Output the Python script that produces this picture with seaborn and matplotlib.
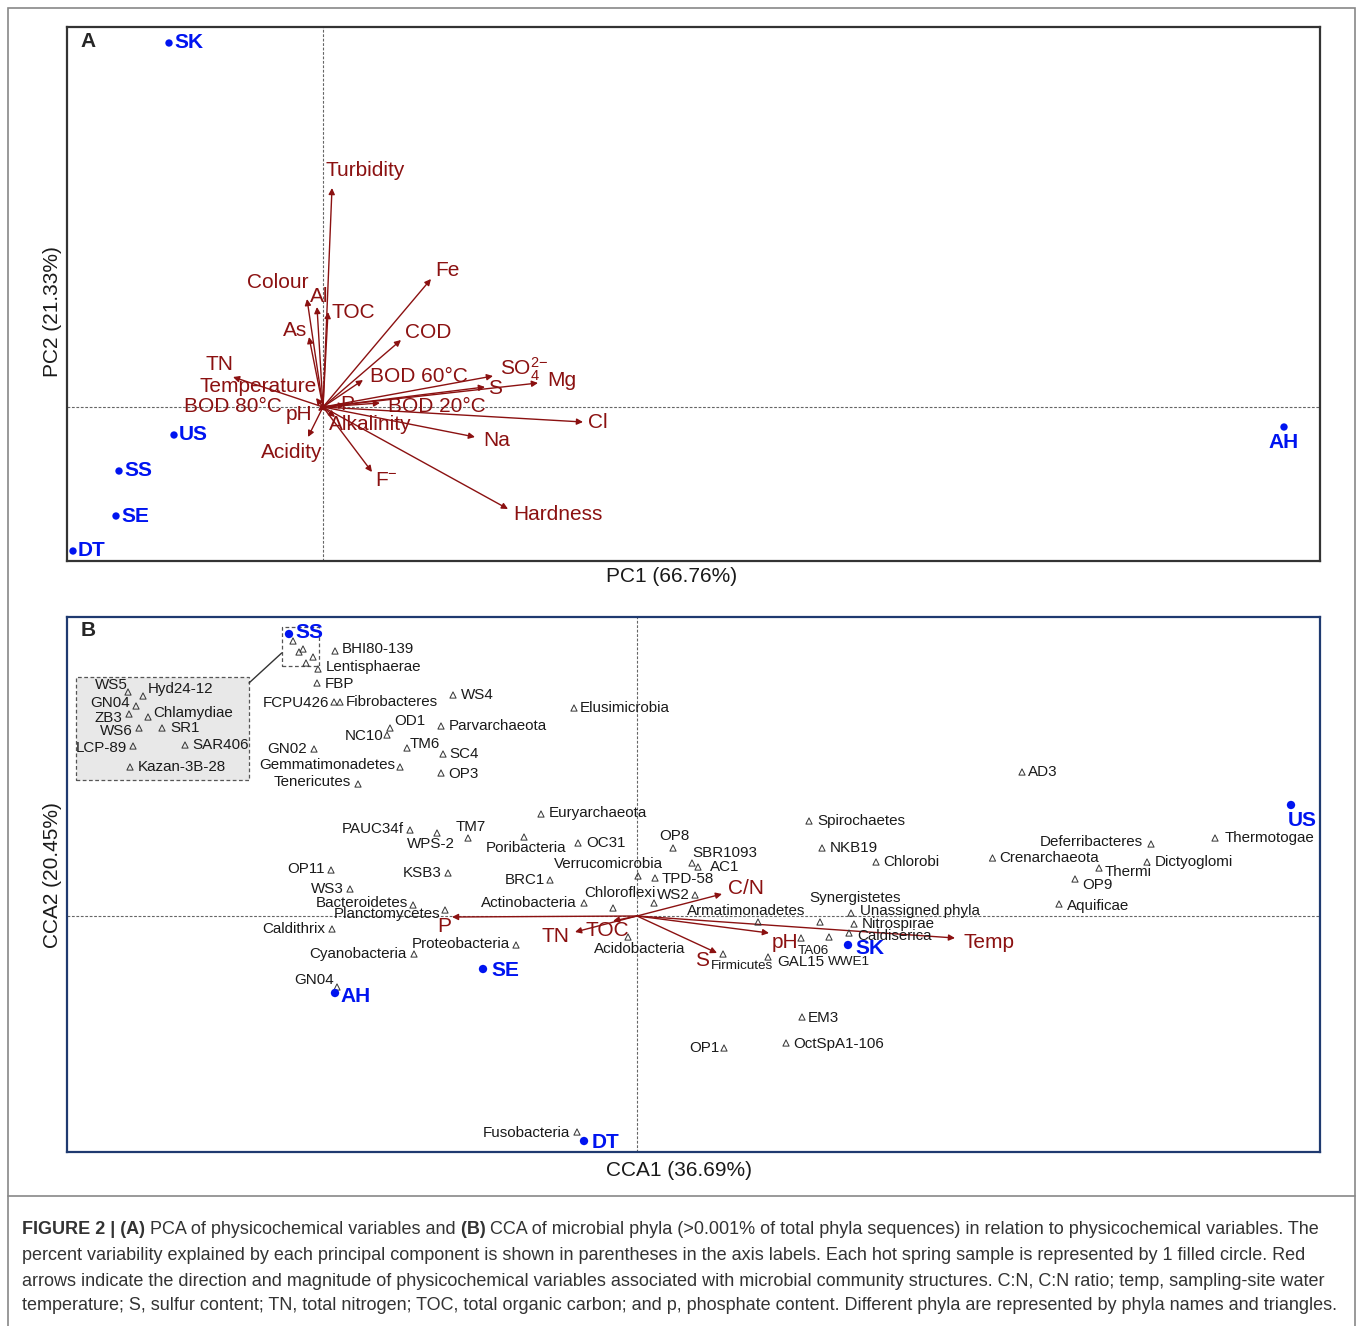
import numpy as np
import pandas as pd
import matplotlib
matplotlib.use("Agg")
import matplotlib.pyplot as plt
import seaborn as sns
from matplotlib.patches import Rectangle
from matplotlib.lines import Line2D

sns.set_theme(style="white")
plt.rcParams["font.family"] = ["Liberation Sans", "DejaVu Sans"]
plt.rcParams["mathtext.fontset"] = "custom"
plt.rcParams["mathtext.rm"] = "Liberation Sans"
plt.rcParams["mathtext.it"] = "Liberation Sans:italic"
plt.rcParams["mathtext.bf"] = "Liberation Sans:bold"

# ---------------- Panel A : PCA ----------------
pca_sites = ["SK", "US", "SS", "SE", "DT", "AH"]
pca_site_x = [-1.54, -1.49, -2.04, -2.07, -2.50, 9.61]
pca_site_y = [3.64, -0.28, -0.64, -1.09, -1.44, -0.20]

pca_vars = ["Turbidity", "Fe", "Colour", "Al", "TOC", "As", "COD", "TN", "Temperature",
            "BOD 80°C", "pH", "BOD 60°C", "SO4", "S", "Mg", "P", "BOD 20°C", "Cl", "Na",
            "Alkalinity", "F", "Hardness", "Acidity"]
pca_var_x = [0.09, 1.08, -0.16, -0.06, 0.05, -0.14, 0.78, -0.90, -0.07,
             -0.04, -0.05, 0.40, 1.70, 1.62, 2.15, 0.22, 0.57, 2.60, 1.52,
             0.12, 0.49, 1.85, -0.15]
pca_var_y = [2.19, 1.28, 1.08, 1.00, 0.95, 0.70, 0.67, 0.30, 0.09,
             0.01, -0.04, 0.27, 0.31, 0.20, 0.24, 0.02, 0.04, -0.15, -0.30,
             -0.10, -0.65, -1.02, -0.30]
pca_var_text = {"SO4": r"SO$_4^{2\mathrm{-}}$", "F": r"F$^{\mathrm{-}}$"}

# ---------------- Panel B : CCA ----------------
cca_sites = ["SS", "US", "SK", "SE", "AH", "DT"]
cca_site_x = [-3.48, 6.54, 2.11, -1.54, -3.02, -0.53]
cca_site_y = [2.82, 1.11, -0.29, -0.53, -0.77, -2.25]

cca_vars = ["C/N", "Temp", "pH", "S", "TOC", "TN", "P"]
cca_var_x = [0.85, 3.18, 1.32, 0.80, -0.24, -0.62, -1.85]
cca_var_y = [0.22, -0.22, -0.17, -0.37, -0.05, -0.16, -0.01]

phyla = ["BHI80-139", "Lentisphaerae", "FBP", "FCPU426", "Fibrobacteres", "WS4", "Elusimicrobia",
         "OD1", "NC10", "Parvarchaeota", "TM6", "SC4", "GN02", "Gemmatimonadetes", "OP3",
         "Tenericutes", "Euryarchaeota", "PAUC34f", "WPS-2", "TM7", "Poribacteria", "OC31",
         "OP11", "KSB3", "Verrucomicrobia", "BRC1", "WS3", "Bacteroidetes", "Actinobacteria",
         "Chloroflexi", "Planctomycetes", "Caldithrix", "Acidobacteria", "Proteobacteria",
         "Cyanobacteria", "GN04", "Spirochaetes", "OP8", "NKB19", "SBR1093", "AC1", "Chlorobi",
         "TPD-58", "WS2", "Armatimonadetes", "Synergistetes", "Unassigned phyla", "Nitrospirae",
         "Caldiserica", "TA06", "WWE1", "GAL15", "Firmicutes", "AD3", "Thermotogae",
         "Deferribacteres", "Crenarchaeota", "Dictyoglomi", "Thermi", "OP9", "Aquificae",
         "EM3", "OP1", "OctSpA1-106", "Fusobacteria"]
phyla_x = [-3.02, -3.19, -3.20, -3.03, -2.97, -1.84, -0.63,
           -2.47, -2.50, -1.96, -2.30, -1.94, -3.23, -2.37, -1.96,
           -2.79, -0.96, -2.27, -2.00, -1.69, -1.13, -0.59,
           -3.06, -1.89, 0.01, -0.87, -2.87, -2.24, -0.53,
           -0.24, -1.92, -3.05, -0.09, -1.21,
           -2.23, -3.00, 1.72, 0.36, 1.85, 0.55, 0.61, 2.39,
           0.18, 0.58, 1.21, 1.83, 2.14, 2.17,
           2.12, 1.64, 1.92, 1.31, 0.86, 3.85, 5.78,
           5.14, 3.555, 5.10, 4.62, 4.38, 4.22,
           1.65, 0.87, 1.49, -0.60]
phyla_y = [2.65, 2.47, 2.33, 2.14, 2.14, 2.21, 2.08,
           1.88, 1.81, 1.90, 1.68, 1.62, 1.67, 1.49, 1.43,
           1.32, 1.02, 0.86, 0.83, 0.78, 0.79, 0.73,
           0.46, 0.43, 0.40, 0.36, 0.27, 0.11, 0.13,
           0.08, 0.06, -0.13, -0.21, -0.29,
           -0.38, -0.71, 0.95, 0.68, 0.68, 0.53, 0.49, 0.54,
           0.38, 0.21, -0.06, -0.06, 0.03, -0.08,
           -0.17, -0.22, -0.21, -0.41, -0.38, 1.44, 0.78,
           0.72, 0.58, 0.54, 0.48, 0.37, 0.12,
           -1.01, -1.32, -1.27, -2.16]

# unlabelled triangles (crowded near SS, one near origin)
unl_x = [-3.44, -3.38, -3.34, -3.31, -3.24, 0.17]
unl_y = [2.75, 2.64, 2.67, 2.53, 2.59, 0.13]

# zoomed inset phyla
inset_phyla = ["WS5", "Hyd24-12", "GN04", "ZB3", "Chlamydiae", "WS6", "SR1", "LCP-89",
               "SAR406", "Kazan-3B-28"]
inset_x = [-5.09, -4.94, -5.01, -5.08, -4.89, -4.98, -4.75, -5.04, -4.52, -5.07]
inset_y = [2.24, 2.20, 2.10, 2.02, 1.99, 1.88, 1.88, 1.70, 1.71, 1.49]

# ---------------- layout (label placement, pixels) ----------------
pca_site_off = [(5, 0, "left"), (5, 0, "left"), (5, 0, "left"), (5, 0, "left"), (5, 0, "left"), (0, -16, "center")]
pca_lab_pos = [(0.02, 2.36, "left"), (1.12, 1.37, "left"), (-0.15, 1.24, "right"), (-0.13, 1.11, "left"),
               (0.09, 0.95, "left"), (-0.16, 0.76, "right"), (0.82, 0.74, "left"), (-1.17, 0.42, "left"),
               (-1.24, 0.21, "left"), (-1.39, 0.00, "left"), (-0.37, -0.07, "left"), (0.47, 0.30, "left"),
               (1.77, 0.38, "left"), (1.65, 0.19, "left"), (2.24, 0.26, "left"), (0.17, 0.02, "left"),
               (0.65, 0.01, "left"), (2.65, -0.16, "left"), (1.60, -0.34, "left"), (0.06, -0.17, "left"),
               (0.52, -0.73, "left"), (1.90, -1.08, "left"), (-0.62, -0.45, "left")]
cca_site_off = [(6, 1, "left"), (11, -15, "center"), (7, -4, "left"), (8, -1, "left"), (5, -3, "left"), (8, -1, "left")]
cca_lab_pos = [(0.91, 0.27, "left"), (3.27, -0.26, "left"), (1.35, -0.27, "left"), (0.58, -0.44, "left"),
               (-0.51, -0.15, "left"), (-0.95, -0.21, "left"), (-2.00, -0.11, "left")]
phyla_off = [(7, 2, "left"), (8, 2, "left"), (8, -1, "left"), (-5, -1, "right"), (6, 0, "left"), (8, 0, "left"),
             (6, 0, "left"), (4, 7, "left"), (-4, -1, "right"), (8, 0, "left"), (3, 4, "left"), (6, 0, "left"),
             (-7, 0, "right"), (-5, 2, "right"), (7, -1, "left"), (-7, 2, "right"), (8, 1, "left"),
             (-6, 1, "right"), (-6, -11, "center"), (3, 11, "center"), (2, -11, "center"), (8, 0, "left"),
             (-6, 1, "right"), (-7, 0, "right"), (-30, 12, "center"), (-5, 0, "right"), (-6, 0, "right"),
             (-5, 2, "right"), (-7, 0, "right"), (7, 15, "center"), (-5, -4, "right"), (-7, 0, "right"),
             (12, -12, "center"), (-6, 1, "right"), (-7, 0, "right"), (-3, 7, "right"), (8, 0, "left"),
             (1, 12, "center"), (8, 0, "left"), (0, 10, "left"), (12, 0, "left"), (7, 0, "left"),
             (7, -1, "left"), (-5, 0, "right"), (-12, 11, "center"), (35, 24, "center"), (9, 2, "left"),
             (8, 0, "left"), (8, -3, "left"), (12, -13, "center"), (20, -25, "center"), (9, -5, "left"),
             (19, -12, "center"), (6, 0, "left"), (10, 0, "left"), (-8, 2, "right"), (7, 0, "left"),
             (8, 0, "left"), (6, -4, "left"), (7, -6, "left"), (8, -2, "left"), (6, -1, "left"),
             (-4, 0, "right"), (7, -1, "left"), (-7, -1, "right")]
small_labels = {"Firmicutes", "TA06", "WWE1"}
inset_off = [(0, 7, "right"), (5, 7, "left"), (-6, 3, "right"), (-7, -4, "right"), (5, 4, "left"),
             (-6, -3, "right"), (8, 0, "left"), (-6, -2, "right"), (7, 0, "left"), (8, 0, "left")]

RED = "#8b1111"
BLUE = "#0014f0"
W, H = 1358, 1326

fig = plt.figure(figsize=(W / 100, H / 100), dpi=100)
fig.patch.set_facecolor("white")


def px_axes(l, t, r, b):
    return fig.add_axes([l / W, 1 - b / H, (r - l) / W, (b - t) / H])


axA = px_axes(67, 27, 1320, 561)
axB = px_axes(67, 617, 1320, 1152)

for ax, xl, yl, spine_col in [(axA, (-2.56, 9.97), (-1.54, 3.80), "#333333"),
                              (axB, (-5.70, 6.83), (-2.36, 2.99), "#1f3a70")]:
    ax.set_xlim(*xl)
    ax.set_ylim(*yl)
    ax.set_xticks([])
    ax.set_yticks([])
    for s in ax.spines.values():
        s.set_color(spine_col)
        s.set_linewidth(1.6)
    ax.axhline(0, color="#666666", lw=0.8, ls=(0, (2.5, 1.5)), zorder=1)
    ax.axvline(0, color="#666666", lw=0.8, ls=(0, (2.5, 1.5)), zorder=1)

# ---- Panel A ----
for name, x, y, (lx, ly, ha) in zip(pca_vars, pca_var_x, pca_var_y, pca_lab_pos):
    axA.annotate("", xy=(x, y), xytext=(0, 0),
                 arrowprops=dict(arrowstyle="-|>", color=RED, lw=1.0, mutation_scale=9,
                                 shrinkA=0, shrinkB=0), zorder=3)
    axA.text(lx, ly, pca_var_text.get(name, name), color=RED, fontsize=15, ha=ha, va="center", zorder=4)

dfA = pd.DataFrame({"x": pca_site_x, "y": pca_site_y, "site": pca_sites})
sns.scatterplot(data=dfA, x="x", y="y", ax=axA, color=BLUE, s=28, edgecolor="none", legend=False, zorder=5)
for (name, x, y), (dx, dy, ha) in zip(zip(pca_sites, pca_site_x, pca_site_y), pca_site_off):
    axA.annotate(name, (x, y), xytext=(dx, dy), textcoords="offset pixels", color=BLUE,
                 fontsize=15, fontweight="bold", ha=ha, va="center", zorder=6)
axA.set_xlabel("")
axA.set_ylabel("")
axA.text(0.0104, 0.972, "A", transform=axA.transAxes, fontsize=15, fontweight="bold", va="center", ha="left")

# ---- Panel B ----
# inset box and connector
axB.add_patch(Rectangle((-5.61, 1.36), 1.73, 1.03, facecolor="#e8e8e8", edgecolor="#555555",
                        lw=0.9, ls=(0, (3, 2)), zorder=1.5))
axB.add_patch(Rectangle((-3.553, 2.50), 0.373, 0.39, facecolor="none", edgecolor="#555555",
                        lw=0.9, ls=(0, (3, 2)), zorder=1.5))
axB.add_line(Line2D([-3.88, -3.553], [2.33, 2.63], color="#333333", lw=1.0, zorder=1.5))

for name, x, y, (lx, ly, ha) in zip(cca_vars, cca_var_x, cca_var_y, cca_lab_pos):
    axB.annotate("", xy=(x, y), xytext=(0, 0),
                 arrowprops=dict(arrowstyle="-|>", color=RED, lw=1.0, mutation_scale=9,
                                 shrinkA=0, shrinkB=0), zorder=3)
    axB.text(lx, ly, name, color=RED, fontsize=15, ha=ha, va="center", zorder=4)

tri = dict(marker="^", s=20, facecolor="none", edgecolor="#333333", linewidth=0.7, legend=False, zorder=4)
dfP = pd.DataFrame({"x": phyla_x, "y": phyla_y, "phylum": phyla})
sns.scatterplot(data=dfP, x="x", y="y", ax=axB, **tri)
sns.scatterplot(x=unl_x, y=unl_y, ax=axB, **tri)
sns.scatterplot(x=inset_x, y=inset_y, ax=axB, **tri)

for (name, x, y), (dx, dy, ha) in zip(zip(phyla, phyla_x, phyla_y), phyla_off):
    axB.annotate(name, (x, y), xytext=(dx, dy), textcoords="offset pixels", color="#1a1a1a",
                 fontsize=9.7 if name in small_labels else 10.9, ha=ha, va="center", zorder=5)
for (name, x, y), (dx, dy, ha) in zip(zip(inset_phyla, inset_x, inset_y), inset_off):
    axB.annotate(name, (x, y), xytext=(dx, dy), textcoords="offset pixels", color="#1a1a1a",
                 fontsize=10.9, ha=ha, va="center", zorder=5)

dfB = pd.DataFrame({"x": cca_site_x, "y": cca_site_y, "site": cca_sites})
sns.scatterplot(data=dfB, x="x", y="y", ax=axB, color=BLUE, s=36, edgecolor="none", legend=False, zorder=6)
for (name, x, y), (dx, dy, ha) in zip(zip(cca_sites, cca_site_x, cca_site_y), cca_site_off):
    axB.annotate(name, (x, y), xytext=(dx, dy), textcoords="offset pixels", color=BLUE,
                 fontsize=15, fontweight="bold", ha=ha, va="center", zorder=7)
axB.set_xlabel("")
axB.set_ylabel("")
axB.text(0.011, 0.974, "B", transform=axB.transAxes, fontsize=15, fontweight="bold", va="center", ha="left")

# axis titles
fig.text(672 / W, 1 - 577 / H, "PC1 (66.76%)", ha="center", va="center", fontsize=15, color="#1a1a1a")
fig.text(52 / W, 1 - 312 / H, "PC2 (21.33%)", ha="center", va="center", rotation=90, fontsize=15, color="#1a1a1a")
fig.text(679 / W, 1 - 1170 / H, "CCA1 (36.69%)", ha="center", va="center", fontsize=15, color="#1a1a1a")
fig.text(52 / W, 1 - 875 / H, "CCA2 (20.45%)", ha="center", va="center", rotation=90, fontsize=15, color="#1a1a1a")

# outer frame (figure box continuing around the caption)
fig.add_artist(Rectangle((8 / W, -0.01), (1355 - 8) / W, 1.01 - 8 / H, transform=fig.transFigure,
                         facecolor="none", edgecolor="#888888", lw=1.2))
fig.add_artist(Line2D([8 / W, 1355 / W], [1 - 1196 / H, 1 - 1196 / H], transform=fig.transFigure,
                      color="#888888", lw=1.2))

# caption
caption = [
    [("FIGURE 2 | (A) ", True), ("PCA of physicochemical variables and ", False), ("(B) ", True),
     ("CCA of microbial phyla (>0.001% of total phyla sequences) in relation to physicochemical variables. The", False)],
    [("percent variability explained by each principal component is shown in parentheses in the axis labels. Each hot spring sample is represented by 1 filled circle. Red", False)],
    [("arrows indicate the direction and magnitude of physicochemical variables associated with microbial community structures. C:N, C:N ratio; temp, sampling-site water", False)],
    [("temperature; S, sulfur content; TN, total nitrogen; TOC, total organic carbon; and p, phosphate content. Different phyla are represented by phyla names and triangles.", False)],
]
renderer = fig.canvas.get_renderer()
line_y = [1230, 1256, 1281, 1306]
for pieces, yy in zip(caption, line_y):
    x = 22
    for txt, bold in pieces:
        t = fig.text(x / W, 1 - yy / H, txt, fontsize=13.0, fontweight="bold" if bold else "normal",
                     color="#333333", ha="left", va="center")
        x += t.get_window_extent(renderer).width

fig.savefig("out.png", dpi=100, facecolor="white")
